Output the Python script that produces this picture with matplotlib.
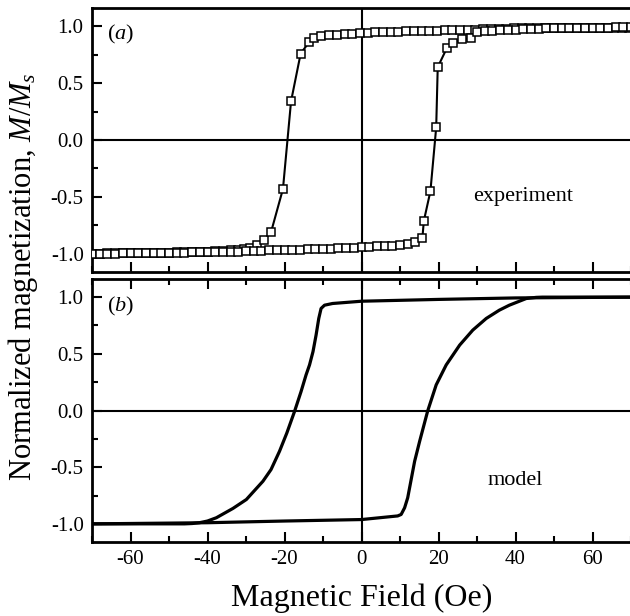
import numpy as np
import matplotlib
matplotlib.use("Agg")
import matplotlib.pyplot as plt
from matplotlib.ticker import MultipleLocator

plt.rcParams['font.family'] = ['Liberation Serif', 'DejaVu Serif']
plt.rcParams['mathtext.fontset'] = 'custom'
plt.rcParams['mathtext.rm'] = 'Liberation Serif'
plt.rcParams['mathtext.it'] = 'Liberation Serif:italic'
plt.rcParams['axes.unicode_minus'] = False

# ---- (a) experiment: descending branch (listed with increasing field)
exp_desc_H = [-70, -68, -66, -64, -62, -60, -58, -56, -54, -52, -50, -48, -46, -44,
              -42, -40, -38, -36, -34, -32, -30.5, -28.9, -27.1, -25.4, -23.5, -20.4,
              -18.3, -15.8, -13.6, -12.4, -10.4, -8.4, -6.4, -4.4, -2.4, -0.4, 1.6,
              3.6, 5.6, 7.6, 9.6, 11.6, 13.6, 15.6, 17.6, 19.6, 21.6, 23.6, 25.6, 27.6,
              29.6, 31.6, 33.6, 35.6, 37.6, 39.6, 41.6, 43.6, 45.6, 47.6, 49.6, 51.6,
              53.6, 55.6, 57.6, 59.6, 61.6, 63.6, 65.6, 67.6, 69.6]
exp_desc_M = [-1.00, -1.00, -0.995, -0.995, -0.995, -0.99, -0.99, -0.99, -0.99, -0.99,
              -0.99, -0.985, -0.985, -0.985, -0.98, -0.98, -0.975, -0.975, -0.97, -0.965,
              -0.955, -0.945, -0.92, -0.88, -0.81, -0.43, 0.34, 0.76, 0.86, 0.90, 0.915,
              0.92, 0.925, 0.93, 0.935, 0.94, 0.94, 0.945, 0.945, 0.95, 0.95, 0.955,
              0.955, 0.96, 0.96, 0.96, 0.965, 0.965, 0.97, 0.97, 0.97, 0.975, 0.975,
              0.975, 0.975, 0.98, 0.98, 0.98, 0.98, 0.98, 0.98, 0.985, 0.985, 0.985,
              0.985, 0.985, 0.985, 0.985, 0.985, 0.985, 0.985]

# ---- (a) experiment: ascending branch
exp_asc_H = [-70, -68, -66, -64, -62, -60, -58, -56, -54, -52, -50, -48, -46, -44,
             -42, -40, -38, -36, -34, -32, -30, -28, -26, -24, -22, -20, -18, -16,
             -14, -12, -10, -8, -6, -4, -2, 0, 2, 4, 6, 8, 10, 12, 14, 15.8, 16.2,
             17.9, 19.4, 19.8, 22.2, 23.7, 26.2, 28.5, 30.0, 32, 34, 36, 38, 40, 42,
             44, 46, 48, 50, 52, 54, 56, 58, 60, 62, 64, 66, 68, 70]
exp_asc_M = [-1.00, -1.00, -1.00, -1.00, -0.995, -0.995, -0.995, -0.99, -0.99, -0.99,
             -0.99, -0.99, -0.99, -0.985, -0.985, -0.985, -0.985, -0.98, -0.98, -0.98,
             -0.975, -0.975, -0.975, -0.97, -0.97, -0.965, -0.965, -0.965, -0.96,
             -0.96, -0.955, -0.955, -0.95, -0.95, -0.945, -0.94, -0.94, -0.935, -0.93,
             -0.93, -0.925, -0.915, -0.90, -0.865, -0.71, -0.45, 0.11, 0.64, 0.81,
             0.855, 0.885, 0.895, 0.945, 0.955, 0.96, 0.965, 0.97, 0.97, 0.975, 0.975,
             0.975, 0.98, 0.98, 0.98, 0.98, 0.985, 0.985, 0.985, 0.985, 0.985, 0.99,
             0.99, 0.99]

# ---- (b) model curves
mod_desc_H = [-70, -46, -44, -42.1, -40, -37.7, -33.4, -29.9, -25.6, -23.5, -21.3,
              -19.4, -17.4, -15.7, -14.4, -13.5, -12.6, -11.8, -11.1, -10.5, -9.6,
              -7.5, 0, 20, 40, 70]
mod_desc_M = [-1.0, -1.0, -0.997, -0.99, -0.975, -0.946, -0.864, -0.785, -0.624,
              -0.521, -0.36, -0.199, -0.009, 0.167, 0.314, 0.402, 0.519, 0.665, 0.812,
              0.90, 0.929, 0.944, 0.964, 0.98, 0.993, 1.0]
mod_asc_H = [-70, -40, -20, 0, 9.4, 10.3, 11.2, 12.0, 12.9, 13.8, 15.1, 17.2, 19.4,
             22.0, 25.5, 28.9, 32.4, 35.8, 38.4, 42.8, 45.4, 47, 70]
mod_asc_M = [-1.0, -0.99, -0.975, -0.962, -0.93, -0.917, -0.858, -0.77, -0.609,
             -0.448, -0.272, -0.003, 0.226, 0.402, 0.577, 0.709, 0.812, 0.885, 0.929,
             0.988, 0.998, 1.0, 1.0]

xticks = [-60, -40, -20, 0, 20, 40, 60]
yticks = [-1.0, -0.5, 0.0, 0.5, 1.0]

fig = plt.figure(figsize=(6.3, 6.16), dpi=100)
W, H = 630, 616
ax1 = fig.add_axes([92 / W, 1 - 272 / H, 539 / W, 264 / H])
ax2 = fig.add_axes([92 / W, 1 - 542 / H, 539 / W, 263 / H])


def style(ax, labels_x, top_ticks):
    ax.set_xlim(-70, 70)
    ax.set_ylim(-1.16, 1.16)
    ax.axhline(0, color='black', lw=1.5, zorder=1)
    ax.axvline(0, color='black', lw=1.5, zorder=1)
    ax.set_xticks(xticks)
    ax.set_yticks(yticks)
    ax.xaxis.set_minor_locator(MultipleLocator(10))
    ax.yaxis.set_minor_locator(MultipleLocator(0.25))
    ax.tick_params(which='both', direction='in', top=top_ticks, right=False,
                   width=1.5, labelsize=15, pad=6)
    ax.tick_params(which='major', length=7)
    ax.tick_params(which='minor', length=4)
    ax.set_yticklabels(['-1.0', '-0.5', '0.0', '0.5', '1.0'])
    if labels_x:
        ax.set_xticklabels([str(t) for t in xticks])
    else:
        ax.set_xticklabels([])
    for sp in ax.spines.values():
        sp.set_linewidth(2)


style(ax1, False, False)
style(ax2, True, True)

ax1.plot(exp_desc_H, exp_desc_M, color='black', lw=1.5, marker='s', ms=5.5,
         mfc='white', mec='black', mew=1.1, zorder=3)
ax1.plot(exp_asc_H, exp_asc_M, color='black', lw=1.5, marker='s', ms=5.5,
         mfc='white', mec='black', mew=1.1, zorder=3)
ax1.text(-66, 0.925, '($a$)', fontsize=16, ha='left', va='center')
ax1.text(42, -0.5, 'experiment', fontsize=16, ha='center', va='center')

ax2.plot(mod_desc_H, mod_desc_M, color='black', lw=2.3, zorder=3)
ax2.plot(mod_asc_H, mod_asc_M, color='black', lw=2.3, zorder=3)
ax2.text(-66, 0.915, '($b$)', fontsize=16, ha='left', va='center')
ax2.text(40, -0.62, 'model', fontsize=16, ha='center', va='center')

ax2.set_xlabel('Magnetic Field (Oe)', fontsize=23, labelpad=10)
fig.text(0.036, 1 - 277 / H, 'Normalized magnetization, $M/M_s$', fontsize=22,
         rotation=90, ha='center', va='center')

fig.savefig('out.png', dpi=100)
